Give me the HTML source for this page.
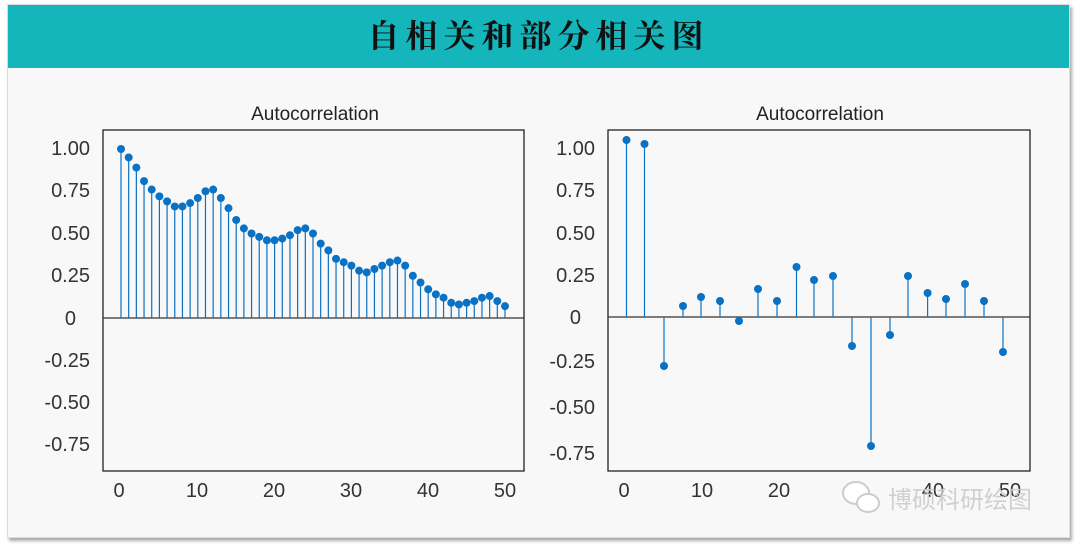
<!DOCTYPE html>
<html><head><meta charset="utf-8"><style>
html,body{margin:0;padding:0;background:#fff;}
body{width:1080px;height:546px;position:relative;overflow:hidden;font-family:"Liberation Sans",Arial,sans-serif;}
#panel{position:absolute;left:7px;top:4px;width:1061px;height:532px;background:#f8f8f8;box-shadow:2px 3px 3px #aaa;border:1px solid #ddd;}
#title{position:absolute;left:0;top:0;width:100%;height:63px;background:#14b5bb;text-align:center;line-height:63px;font-size:32px;font-weight:bold;letter-spacing:6px;color:#111;font-family:"Liberation Serif","Noto Serif CJK SC",serif;}
svg{position:absolute;left:0;top:0;}
</style></head><body>
<div id="panel"><div id="title">自相关和部分相关图</div></div>
<svg id="s" width="1080" height="546" xmlns="http://www.w3.org/2000/svg" font-family="Liberation Sans, Arial, sans-serif">
<text x="315" y="120" font-size="19" text-anchor="middle" fill="#222">Autocorrelation</text>
<text x="820" y="120" font-size="19" text-anchor="middle" fill="#222">Autocorrelation</text>
<rect x="103" y="130" width="421" height="341" fill="none" stroke="#222" stroke-width="1.3"/>
<rect x="608" y="130" width="422" height="341" fill="none" stroke="#222" stroke-width="1.3"/>
<line x1="103" y1="318" x2="524" y2="318" stroke="#333" stroke-width="1.2"/>
<line x1="608" y1="317" x2="1030" y2="317" stroke="#333" stroke-width="1.2"/>
<g font-size="20" fill="#333" text-anchor="end">
<text x="90" y="155">1.00</text><text x="90" y="197">0.75</text><text x="90" y="240">0.50</text><text x="90" y="282">0.25</text><text x="76" y="325">0</text><text x="90" y="367">-0.25</text><text x="90" y="409">-0.50</text><text x="90" y="451">-0.75</text>
<text x="595" y="155">1.00</text><text x="595" y="197">0.75</text><text x="595" y="240">0.50</text><text x="595" y="282">0.25</text><text x="581" y="324">0</text><text x="595" y="368">-0.25</text><text x="595" y="414">-0.50</text><text x="595" y="460">-0.75</text>
</g>
<g font-size="20" fill="#333" text-anchor="middle">
<text x="119" y="497">0</text><text x="197" y="497">10</text><text x="274" y="497">20</text><text x="351" y="497">30</text><text x="428" y="497">40</text><text x="505" y="497">50</text>
<text x="624" y="497">0</text><text x="702" y="497">10</text><text x="779" y="497">20</text><text x="856" y="497">30</text><text x="933" y="497">40</text><text x="1010" y="497">50</text>
</g>
<g id="g"></g>
<text x="888" y="508" font-size="24" fill="#ccc" font-family="Liberation Sans, Noto Sans CJK SC, sans-serif" opacity="0.9">博硕科研绘图</text>
<ellipse cx="856" cy="493" rx="13" ry="11" fill="#fff" stroke="#ccc" stroke-width="2"/>
<ellipse cx="868" cy="503" rx="11" ry="9" fill="#fff" stroke="#ccc" stroke-width="2"/>
</svg>
<script>
var g=document.getElementById('g'),h='';
var L=[1.00,.95,.89,.81,.76,.72,.69,.66,.66,.68,.71,.75,.76,.71,.65,.58,.53,.50,.48,.46,.46,.47,.49,.52,.53,.50,.44,.40,.35,.33,.31,.28,.27,.29,.31,.33,.34,.31,.25,.21,.17,.14,.12,.09,.08,.09,.10,.12,.13,.10,.07];
for(var i=0;i<L.length;i++){var x=121+i*7.68,y=318-L[i]*169;
h+='<line x1="'+x+'" y1="318" x2="'+x+'" y2="'+y+'" stroke="#0a72c4" stroke-width="1.2"/><circle cx="'+x+'" cy="'+y+'" r="4" fill="#0a72c4"/>';}
var R=[[626.5,140],[644.5,144],[664,366],[683,306],[701,297],[720,301],[739,321],[758,289],[777,301],[796.5,267],[814,280],[833,276],[852,346],[871,446],[890,335],[908,276],[927.6,293],[946,299],[965,284],[984,301],[1003,352]];
R.forEach(function(p){h+='<line x1="'+p[0]+'" y1="317" x2="'+p[0]+'" y2="'+p[1]+'" stroke="#0a72c4" stroke-width="1.2"/><circle cx="'+p[0]+'" cy="'+p[1]+'" r="4" fill="#0a72c4"/>';});
g.innerHTML=h;
</script>
</body></html>
